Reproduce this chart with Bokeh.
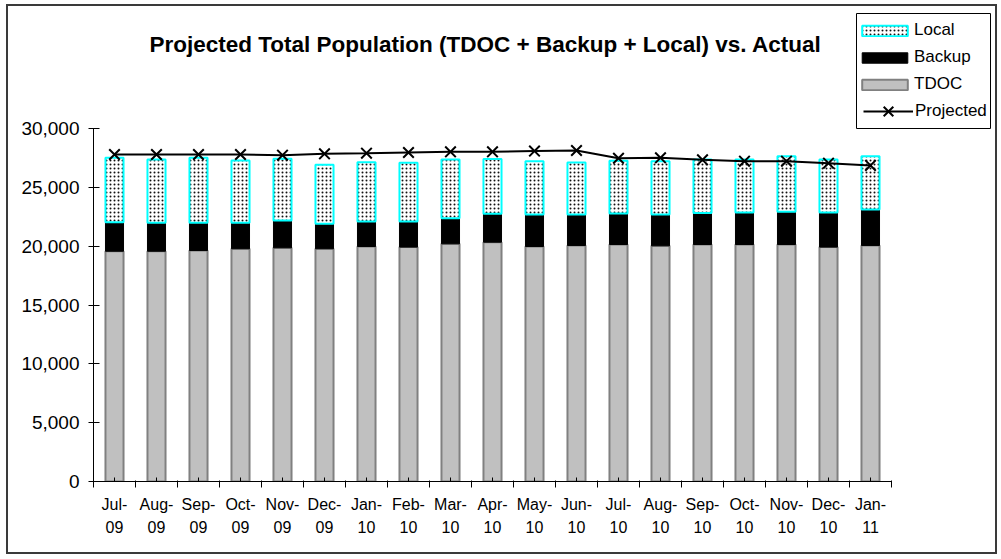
from bokeh.plotting import figure
from bokeh.models import (FixedTicker, NumeralTickFormatter, Legend, LegendItem,
                          Label, Range1d, BoxAnnotation)
from bokeh.embed import file_html
from bokeh.resources import INLINE

months = ["Jul-\n09", "Aug-\n09", "Sep-\n09", "Oct-\n09", "Nov-\n09", "Dec-\n09",
          "Jan-\n10", "Feb-\n10", "Mar-\n10", "Apr-\n10", "May-\n10", "Jun-\n10",
          "Jul-\n10", "Aug-\n10", "Sep-\n10", "Oct-\n10", "Nov-\n10", "Dec-\n10",
          "Jan-\n11"]
tdoc = [19570, 19570, 19630, 19780, 19860, 19780, 19970, 19920, 20200, 20340,
        19970, 20060, 20140, 20030, 20140, 20140, 20140, 19920, 20060]
backup = [2470, 2420, 2360, 2210, 2320, 2120, 2130, 2180, 2180, 2410,
          2720, 2630, 2640, 2660, 2670, 2720, 2780, 2940, 3060]
local = [5470, 5380, 5520, 5290, 5250, 5010, 5040, 4990, 4990, 4650,
         4530, 4420, 4470, 4530, 4560, 4510, 4730, 4510, 4530]
projected = [27790, 27790, 27790, 27790, 27730, 27850, 27900, 27960, 28020, 28020,
             28080, 28130, 27470, 27510, 27340, 27220, 27220, 27050, 26860]
y_ticks = [0, 5000, 10000, 15000, 20000, 25000, 30000]
title_text = "Projected Total Population (TDOC + Backup + Local) vs. Actual"

x = list(range(len(months)))
backup_top = [t + b for t, b in zip(tdoc, backup)]
local_top = [bt + l for bt, l in zip(backup_top, local)]

FONT = "Liberation Sans"

# ---- layout geometry (canvas pixels) ----
W, H = 991, 550
FRAME_LEFT, FRAME_BOTTOM = 85, 475          # frame spans to top/right canvas edges
PX_PER_CAT = 42.0                           # width of one category slot
PX_Y_SPAN = 353.0                           # pixels from 0 to 30,000
Y_MAX_AXIS = 30000
frame_w = W - FRAME_LEFT
frame_h = FRAME_BOTTOM
x_start = -0.5
x_end = x_start + frame_w / PX_PER_CAT
y_end = Y_MAX_AXIS * frame_h / PX_Y_SPAN


def cx(px):  # canvas x pixel -> data x
    return x_start + (px - FRAME_LEFT) / PX_PER_CAT


def cy(py):  # canvas y pixel (from top) -> data y
    return (FRAME_BOTTOM - py) / PX_Y_SPAN * Y_MAX_AXIS


p = figure(width=W, height=H, output_backend="svg", toolbar_location=None,
           x_range=Range1d(x_start, x_end), y_range=Range1d(0, y_end),
           min_border_left=FRAME_LEFT, min_border_right=0, min_border_top=0,
           min_border_bottom=H - FRAME_BOTTOM, background_fill_color="white",
           border_fill_color="white")
p.styles = {"border": "2px solid #3a3a3a", "margin-left": "6px", "margin-top": "4px"}
p.xgrid.visible = False
p.ygrid.visible = False
p.outline_line_color = None

BW = 0.43
r_tdoc = p.vbar(x=x, bottom=0, top=tdoc, width=BW, fill_color="#c0c0c0",
                line_color="#808080", line_width=2)
r_backup = p.vbar(x=x, bottom=tdoc, top=backup_top, width=BW, fill_color="black",
                  line_color="black", line_width=1)
r_local = p.vbar(x=x, bottom=backup_top, top=local_top, width=BW, fill_color="white",
                 line_color="#00ffff", line_width=2, hatch_pattern="dot",
                 hatch_color="#111111", hatch_scale=4, hatch_weight=3)
r_line = p.line(x=x, y=projected, line_color="black", line_width=2)
r_pts = p.scatter(x=x, y=projected, marker="x", size=15, line_color="black",
                  line_width=2)

# axes
p.yaxis.bounds = (0, Y_MAX_AXIS)
p.yaxis.ticker = FixedTicker(ticks=y_ticks)
p.yaxis.formatter = NumeralTickFormatter(format="0,0")
p.yaxis.major_tick_in = 6
p.yaxis.major_tick_out = 5
p.yaxis.minor_tick_line_color = None
p.yaxis.major_label_standoff = 9
p.yaxis.major_label_text_font = FONT
p.yaxis.major_label_text_font_size = "19px"
p.yaxis.major_label_text_color = "black"
p.yaxis.axis_line_color = "black"
p.yaxis.major_tick_line_color = "black"

p.xaxis.bounds = (-0.5, len(months) - 0.5)
p.xaxis.ticker = FixedTicker(ticks=x, minor_ticks=[i - 0.5 for i in range(len(months) + 1)])
p.xaxis.major_label_overrides = {i: m for i, m in zip(x, months)}
p.xaxis.major_tick_in = 4
p.xaxis.major_tick_out = 0
p.xaxis.minor_tick_in = 1
p.xaxis.minor_tick_out = 6
p.xaxis.minor_tick_line_color = "black"
p.xaxis.major_tick_line_color = "black"
p.xaxis.axis_line_color = "black"
p.xaxis.major_label_standoff = 8
p.xaxis.major_label_text_font = FONT
p.xaxis.major_label_text_font_size = "16px"
p.xaxis.major_label_text_color = "black"
p.xaxis.major_label_text_line_height = 1.4

# title (placed in the empty area above the bars)
title = Label(x=cx(477), y=cy(38), text=title_text,
              text_align="center", text_baseline="middle", text_font=FONT,
              text_font_size="22.5px", text_font_style="bold", text_color="black")
p.add_layout(title)


def style_legend(lg, glyph_w, glyph_h, item_h, pad, standoff):
    lg.border_line_color = None
    lg.background_fill_alpha = 0
    lg.padding = pad
    lg.spacing = 7
    lg.margin = 0
    lg.glyph_width = glyph_w
    lg.glyph_height = glyph_h
    lg.label_height = item_h
    lg.label_standoff = standoff
    lg.label_text_font = FONT
    lg.label_text_font_size = "17px"
    lg.label_text_color = "black"


LEG_L, LEG_R, LEG_T, LEG_B = 848, 982, 7, 122
legend_a = Legend(items=[
    LegendItem(label="Local", renderers=[r_local]),
    LegendItem(label="Backup", renderers=[r_backup]),
    LegendItem(label="TDOC", renderers=[r_tdoc]),
], location=(848 - FRAME_LEFT, FRAME_BOTTOM - (LEG_T + 81)))
style_legend(legend_a, 57, 13, 20, 7, 1)
p.add_layout(legend_a)

legend_b = Legend(items=[
    LegendItem(label="Projected", renderers=[r_line, r_pts]),
], location=(855 - FRAME_LEFT, FRAME_BOTTOM - 122))
style_legend(legend_b, 50, 34, 20, 0, 2)
p.add_layout(legend_b)

legend_box = BoxAnnotation(left=cx(LEG_L), right=cx(LEG_R), top=cy(LEG_T),
                           bottom=cy(LEG_B), fill_color=None, fill_alpha=0,
                           line_color="black", line_width=1, line_alpha=1)
p.add_layout(legend_box)

open("out.html", "w").write(file_html(p, INLINE))
